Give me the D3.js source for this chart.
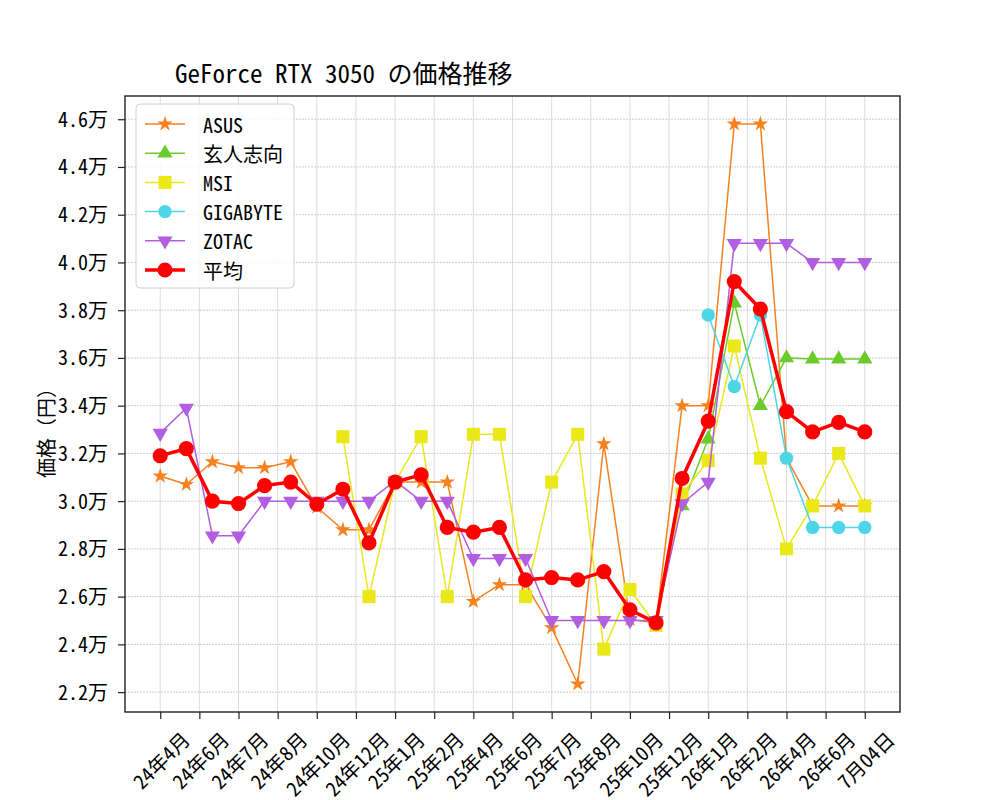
<!DOCTYPE html>
<html><head><meta charset="utf-8">
<script src="https://cdn.jsdelivr.net/npm/d3@7"></script>
<style>
html,body{margin:0;padding:0;background:#fff;}
text{font-family:"Noto Sans Mono CJK JP","Noto Sans CJK JP","DejaVu Sans Mono",monospace;fill:#000;}
</style></head>
<body><svg id="chart" width="1000" height="800"></svg>
<script>
const xTickLabels = ["24年4月","24年6月","24年7月","24年8月","24年10月","24年12月","25年1月","25年2月","25年4月","25年6月","25年7月","25年8月","25年10月","25年12月","26年1月","26年2月","26年4月","26年6月","7月04日"];
const yTickValues = [22000,24000,26000,28000,30000,32000,34000,36000,38000,40000,42000,44000,46000];
const yTickLabels = ["2.2万","2.4万","2.6万","2.8万","3.0万","3.2万","3.4万","3.6万","3.8万","4.0万","4.2万","4.4万","4.6万"];
const N = null;
const asus = [31050,30700,31650,31400,31400,31650,29750,28800,28800,30800,30800,30800,25800,26500,26500,24700,22340,32400,25050,24900,34000,34000,45800,45800,31800,29800,29800,29800];
const kurouto = [N,N,N,N,N,N,N,N,N,N,N,N,N,N,N,N,N,N,N,N,29800,32600,38300,34000,36000,35950,35950,35950];
const msi = [N,N,N,N,N,N,N,32700,26000,30800,32700,26000,32800,32800,26000,30800,32800,23800,26300,24800,30300,31700,36500,31800,28000,29800,32000,29800];
const gigabyte = [N,N,N,N,N,N,N,N,N,N,N,N,N,N,N,N,N,N,N,N,N,37800,34800,37800,31800,28900,28900,28900];
const zotac = [32850,33900,28550,28550,30000,30000,30000,30000,30000,30850,30000,30000,27600,27600,27600,25000,25000,25000,25000,25000,29900,30800,40800,40800,40800,40000,40000,40000];
const average = [31900,32200,30000,29900,30650,30800,29870,30500,28250,30800,31100,28900,28700,28900,26700,26800,26700,27050,25450,24900,30950,33350,39200,38050,33750,32900,33300,32900];

const seriesNames = ["ASUS","玄人志向","MSI","GIGABYTE","ZOTAC","平均"];
const seriesData = [asus,kurouto,msi,gigabyte,zotac,average];
const colors = ["#f5821f","#6ccb2c","#ebe81a","#4dd5e8","#b15ee0","#ff0000"];
const symbols = [d3.symbolStar,d3.symbolTriangle,d3.symbolSquare,d3.symbolCircle,d3.symbolTriangle,d3.symbolCircle];
const symSizes = [75,100,170,140,100,180];
const rotations = [0,0,0,0,180,0];
const lineWidths = [1.5,1.5,1.5,1.5,1.5,3.5];

const L=125,R=900,T=96,B=712;
const n = asus.length;
const all = seriesData.flat().filter(v=>v!==null);
const mn = d3.min(all), mx = d3.max(all), pad=(mx-mn)*0.05;
const x = d3.scaleLinear().domain([-(n-1)*0.05,(n-1)*1.05]).range([L,R]);
const y = d3.scaleLinear().domain([mn-pad,mx+pad]).range([B,T]);
const xTickValues = xTickLabels.map((d,i)=>i*(n-1)/(xTickLabels.length-1));

const svg = d3.select("#chart");
// grid
const g = svg.append("g");
g.selectAll(".vg").data(xTickValues).join("line")
 .attr("x1",d=>x(d)).attr("x2",d=>x(d)).attr("y1",T).attr("y2",B)
 .attr("stroke","#dcdcdc").attr("stroke-width",1);
g.selectAll(".hg").data(yTickValues).join("line")
 .attr("x1",L).attr("x2",R).attr("y1",d=>y(d)).attr("y2",d=>y(d))
 .attr("stroke","#cfcfcf").attr("stroke-width",1).attr("stroke-dasharray","2,1");

// axes
const xAxis = d3.axisBottom(x).tickValues(xTickValues).tickFormat((d,i)=>xTickLabels[i]).tickSize(7).tickPadding(8);
const yAxis = d3.axisLeft(y).tickValues(yTickValues).tickFormat((d,i)=>yTickLabels[i]).tickSize(7).tickPadding(10);
const gx = svg.append("g").attr("transform",`translate(0,${B})`).call(xAxis);
const gy = svg.append("g").attr("transform",`translate(${L},0)`).call(yAxis);
[gx,gy].forEach(a=>{a.select(".domain").remove();a.selectAll(".tick line").attr("stroke","#222").attr("stroke-width",1.2);
 a.selectAll("text").style("font-size","20px").attr("fill","#111");});
gy.selectAll("text").attr("dy","0.35em");
gx.selectAll(".tick text").each(function(){
  const t=d3.select(this);
  const len=this.getComputedTextLength();
  const h=20;
  const boxH=(len+h)/Math.SQRT2;
  t.attr("text-anchor","middle").attr("dominant-baseline","central").attr("dy",null)
   .attr("y",null).attr("transform",`translate(0,${16+boxH/2}) rotate(-45)`);
});

// series
seriesData.forEach((data,k)=>{
  const pts = data.map((v,i)=>({i,v})).filter(d=>d.v!==null);
  svg.append("path").datum(pts)
    .attr("d",d3.line().x(d=>x(d.i)).y(d=>y(d.v)))
    .attr("fill","none").attr("stroke",colors[k]).attr("stroke-width",lineWidths[k]).attr("stroke-linejoin","round");
  svg.append("g").selectAll("path").data(pts).join("path")
    .attr("d",d3.symbol(symbols[k],symSizes[k]))
    .attr("transform",d=>`translate(${x(d.i)},${y(d.v)}) rotate(${rotations[k]})`)
    .attr("fill",colors[k]);
});

// frame
svg.append("rect").attr("x",L).attr("y",T).attr("width",R-L).attr("height",B-T)
 .attr("fill","none").attr("stroke","#222").attr("stroke-width",1.4);

// title
svg.append("text").attr("x",175).attr("y",83).style("font-size","25px").text("GeForce RTX 3050 の価格推移");
// y label
svg.append("text").attr("transform","translate(45,428) rotate(-90)").attr("text-anchor","middle")
 .attr("dominant-baseline","central").style("font-size","20px").text("価格（円）");

// legend
const lg = svg.append("g");
lg.append("rect").attr("x",136).attr("y",104).attr("width",158).attr("height",184).attr("rx",4)
 .attr("fill","#fff").attr("fill-opacity",0.85).attr("stroke","#d0d0d0");
seriesNames.forEach((name,k)=>{
  const yy = 124 + k*29.2;
  lg.append("line").attr("x1",145).attr("x2",185).attr("y1",yy).attr("y2",yy)
    .attr("stroke",colors[k]).attr("stroke-width",lineWidths[k]);
  lg.append("path").attr("d",d3.symbol(symbols[k],symSizes[k]))
    .attr("transform",`translate(165,${yy}) rotate(${rotations[k]})`).attr("fill",colors[k]);
  lg.append("text").attr("x",203).attr("y",yy).attr("dominant-baseline","central").style("font-size","20px").text(name);
});
</script></body></html>
